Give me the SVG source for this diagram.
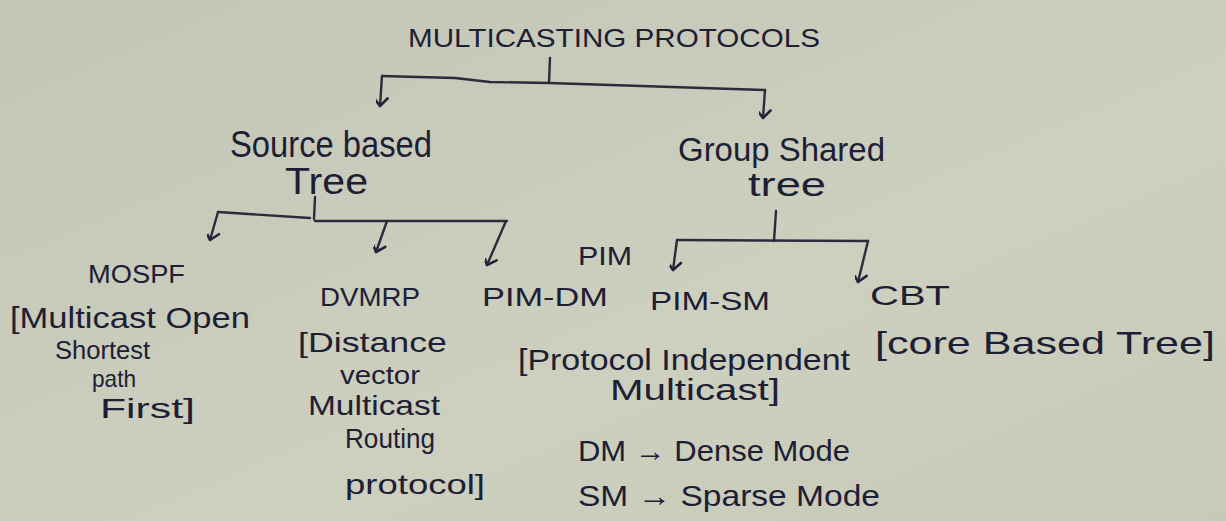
<svg xmlns="http://www.w3.org/2000/svg" width="1226" height="521" viewBox="0 0 1226 521">
<defs>
<linearGradient id="paper" x1="0" y1="0" x2="1" y2="1">
<stop offset="0" stop-color="#c3c6b6"/>
<stop offset="0.6" stop-color="#cdcfbf"/>
<stop offset="1" stop-color="#c7c9b9"/>
</linearGradient>
<marker id="ah" viewBox="0 0 20 20" refX="10" refY="16" markerWidth="20" markerHeight="20" markerUnits="userSpaceOnUse" orient="auto">
<polyline points="3,8 10,16 17,8" fill="none" stroke="#22253a" stroke-width="2.6" stroke-linecap="round" stroke-linejoin="round" transform="rotate(-90 10 16)"/>
</marker>
<style>
.t{font-family:"Liberation Sans","DejaVu Sans",sans-serif;fill:#1d2034;}
.c{fill:none;stroke:#2a2c3c;stroke-width:2.4;stroke-linecap:round;stroke-linejoin:round;}
.a{marker-end:url(#ah);}
</style>
</defs>
<rect width="1226" height="521" fill="url(#paper)"/>
<g id="connectors">
<path class="c" d="M550 58 L549 83"/>
<path class="c" d="M382 76 L455 78 L490 82 L549 83 L765 90"/>
<path class="c a" d="M382 76 L380 106"/>
<path class="c a" d="M765 90 L763 118"/>
<path class="c" d="M315 197 L314 219"/>
<path class="c" d="M218 212 L310 218 M315 221 L507 221"/>
<path class="c a" d="M218 212 L210 240"/>
<path class="c a" d="M387 221 L376 252"/>
<path class="c a" d="M506 221 L487 265"/>
<path class="c" d="M776 211 L774 241"/>
<path class="c" d="M677 240 L868 241"/>
<path class="c a" d="M677 240 L673 270"/>
<path class="c a" d="M868 241 L858 282"/>
</g>
<g id="root"><text class="t" x="408" y="47" font-size="26" textLength="412" lengthAdjust="spacingAndGlyphs">MULTICASTING PROTOCOLS</text></g>
<g id="source-tree">
<text class="t" x="230" y="157" font-size="36" textLength="202" lengthAdjust="spacingAndGlyphs">Source based</text>
<text class="t" x="285" y="194" font-size="36" textLength="83" lengthAdjust="spacingAndGlyphs">Tree</text>
</g>
<g id="group-tree">
<text class="t" x="678" y="161" font-size="34" textLength="207" lengthAdjust="spacingAndGlyphs">Group Shared</text>
<text class="t" x="748" y="196" font-size="34" textLength="78" lengthAdjust="spacingAndGlyphs">tree</text>
</g>
<g id="mospf">
<text class="t" x="88" y="283" font-size="26" textLength="97" lengthAdjust="spacingAndGlyphs">MOSPF</text>
<text class="t" x="10" y="328" font-size="30" textLength="240" lengthAdjust="spacingAndGlyphs">[Multicast Open</text>
<text class="t" x="55" y="359" font-size="26" textLength="95" lengthAdjust="spacingAndGlyphs">Shortest</text>
<text class="t" x="92" y="387" font-size="24" textLength="44" lengthAdjust="spacingAndGlyphs">path</text>
<text class="t" x="100" y="418" font-size="28" textLength="95" lengthAdjust="spacingAndGlyphs">First]</text>
</g>
<g id="dvmrp">
<text class="t" x="320" y="306" font-size="26" textLength="100" lengthAdjust="spacingAndGlyphs">DVMRP</text>
<text class="t" x="298" y="352" font-size="28" textLength="149" lengthAdjust="spacingAndGlyphs">[Distance</text>
<text class="t" x="340" y="384" font-size="26" textLength="80" lengthAdjust="spacingAndGlyphs">vector</text>
<text class="t" x="308" y="415" font-size="28" textLength="132" lengthAdjust="spacingAndGlyphs">Multicast</text>
<text class="t" x="345" y="448" font-size="28" textLength="90" lengthAdjust="spacingAndGlyphs">Routing</text>
<text class="t" x="345" y="494" font-size="28" textLength="140" lengthAdjust="spacingAndGlyphs">protocol]</text>
</g>
<g id="pim">
<text class="t" x="578" y="265" font-size="26" textLength="54" lengthAdjust="spacingAndGlyphs">PIM</text>
<text class="t" x="482" y="306" font-size="26" textLength="126" lengthAdjust="spacingAndGlyphs">PIM-DM</text>
<text class="t" x="650" y="310" font-size="26" textLength="120" lengthAdjust="spacingAndGlyphs">PIM-SM</text>
<text class="t" x="518" y="370" font-size="30" textLength="332" lengthAdjust="spacingAndGlyphs">[Protocol Independent</text>
<text class="t" x="610" y="400" font-size="30" textLength="170" lengthAdjust="spacingAndGlyphs">Multicast]</text>
<text class="t" x="578" y="461" font-size="30" textLength="272" lengthAdjust="spacingAndGlyphs">DM → Dense Mode</text>
<text class="t" x="578" y="506" font-size="30" textLength="302" lengthAdjust="spacingAndGlyphs">SM → Sparse Mode</text>
</g>
<g id="cbt">
<text class="t" x="870" y="305" font-size="28" textLength="80" lengthAdjust="spacingAndGlyphs">CBT</text>
<text class="t" x="875" y="354" font-size="32" textLength="340" lengthAdjust="spacingAndGlyphs">[core Based Tree]</text>
</g>
</svg>
